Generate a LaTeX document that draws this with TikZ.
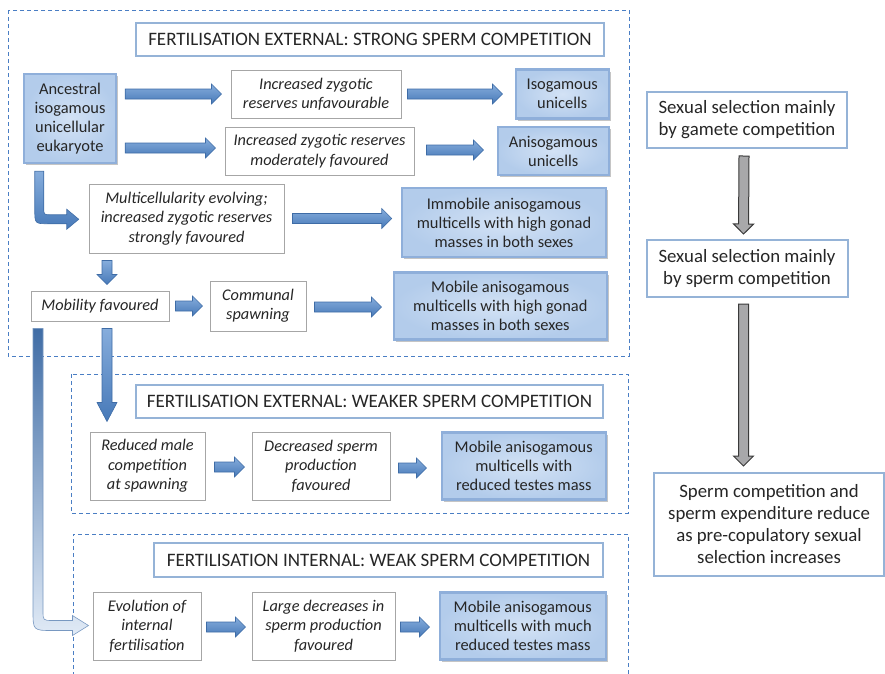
\documentclass[tikz,border=0pt]{standalone}
\usepackage{fontspec}
\setmainfont{Carlito}
\usetikzlibrary{positioning,calc,shadows}

\definecolor{textgray}{HTML}{262626}
\definecolor{dashblue}{HTML}{4A7EC4}
\definecolor{titleblue}{HTML}{95B3D7}
\definecolor{boxfill}{HTML}{D3E2F5}
\definecolor{boxouter}{HTML}{B3CCEB}
\definecolor{boxedge}{HTML}{8FAFDA}
\definecolor{arrowlight}{HTML}{86ADDC}
\definecolor{arrowdark}{HTML}{4779B8}
\definecolor{arrowedge}{HTML}{3E6CA6}
\definecolor{grayfill}{HTML}{A8A8AA}
\definecolor{grayedge}{HTML}{3A3A3A}
\definecolor{plainedge}{HTML}{A6A6A6}

\tikzset{
    stage/.style={draw=dashblue, line width=1pt, dash pattern=on 4pt off 3pt},
    box size/.style 2 args={minimum width=#1, minimum height=#2},
    heading/.style={draw=titleblue, line width=2pt, fill=white, inner sep=0pt,
        text=textgray, font=\fontsize{19}{22}\selectfont},
    outcome/.style={draw=boxedge, line width=2.5pt, inner color=boxfill, outer color=boxouter, inner sep=0pt,
        drop shadow={shadow xshift=2pt, shadow yshift=-2pt, fill=black!45, opacity=0.5},
        align=center, text=textgray, font=\fontsize{16.4}{19}\selectfont},
    process/.style={draw=plainedge, line width=1pt, fill=white, inner sep=0pt,
        align=center, text=textgray, font=\fontsize{16.3}{19.3}\selectfont\itshape},
    summary/.style={draw=titleblue, line width=2pt, fill=white, inner sep=0pt,
        align=center, text=textgray, font=\fontsize{18.8}{22}\selectfont},
    blue arrow/.style={draw=arrowedge, line width=0.6pt, top color=arrowlight, bottom color=arrowdark},
    long arrow/.style={draw=arrowedge!70, line width=0.6pt, top color=arrowdark!90!black, bottom color=arrowlight!25},
    gray arrow/.style={draw=grayedge, line width=1pt, fill=grayfill},
}

\newcommand{\headlen}{10pt}
\newcommand{\fatarrow}[3][blue arrow]{%
    \path ($#2$) coordinate (fa-s) ($#3$) coordinate (fa-e);
    \path ($(fa-e)!\headlen!(fa-s)$) coordinate (fa-h);
    \path[#1] ($(fa-s)!5pt!90:(fa-e)$) -- ($(fa-h)!5pt!90:(fa-e)$) -- ($(fa-h)!10pt!90:(fa-e)$)
        -- (fa-e) -- ($(fa-h)!10pt!-90:(fa-e)$) -- ($(fa-h)!5pt!-90:(fa-e)$) -- ($(fa-s)!5pt!-90:(fa-e)$) -- cycle;}

\begin{document}
\begin{tikzpicture}[x=1pt, y=-1pt]
    \useasboundingbox (0,0) rectangle (885,673);

    \draw[stage] (8,10) rectangle (629,356);
    \draw[stage] (71,374) rectangle (628,513);
    \draw[stage] (73,690) |- (628,534) -- (628,690);

    \node[heading, box size={468}{33}] (title1) at (370,39.5) {FERTILISATION EXTERNAL: STRONG SPERM COMPETITION};
    \node[outcome, box size={92}{89}] (anc) at (70,118.5) {Ancestral\\isogamous\\unicellular\\eukaryote};
    \node[process, box size={170}{48}] (unfav) at (316,94) {Increased zygotic\\reserves unfavourable};
    \node[process, box size={189}{48}] (moder) at (319.5,151) {Increased zygotic reserves\\moderately favoured};
    \node[outcome, box size={93}{49}, right=113pt of unfav] (iso) {Isogamous\\unicells};
    \node[outcome, box size={111}{48}, right=82pt of moder] (aniso) {Anisogamous\\unicells};
    \node[process, box size={195}{69}] (multi) at (186.5,218.5) {Multicellularity evolving;\\increased zygotic reserves\\strongly favoured};
    \node[outcome, box size={204}{69}] (immob) at (504,222.5) {Immobile anisogamous\\multicells with high gonad\\masses in both sexes};
    \node[process, box size={138}{30}] (mobil) at (100,306) {Mobility favoured};
    \node[process, box size={96}{50}, right=40pt of mobil] (commun) {Communal\\spawning};
    \node[outcome, box size={213}{67}, right=86pt of commun] (mobile1) {Mobile anisogamous\\multicells with high gonad\\masses in both sexes};

    \node[heading, box size={467}{33}] (title2) at (369.5,401.5) {FERTILISATION EXTERNAL: WEAKER SPERM COMPETITION};
    \node[process, box size={115}{68}] (reduced) at (147.5,466) {Reduced male\\competition\\at spawning};
    \node[process, box size={138}{68}, right=46pt of reduced] (decr) {Decreased sperm\\production\\favoured};
    \node[outcome, box size={164}{67}, right=50pt of decr] (mobile2) {Mobile anisogamous\\multicells with\\reduced testes mass};

    \node[heading, box size={449}{34}] (title3) at (378.5,560) {FERTILISATION INTERNAL: WEAK SPERM COMPETITION};
    \node[process, box size={108}{68}] (evol) at (147,626) {Evolution of\\internal\\fertilisation};
    \node[process, box size={143}{68}, right=50pt of evol] (large) {Large decreases in\\sperm production\\favoured};
    \node[outcome, box size={166}{67}, right=43pt of large] (mobile3) {Mobile anisogamous\\multicells with much\\reduced testes mass};

    \node[summary, box size={200}{56}] (ss1) at (747,120) {Sexual selection mainly\\by gamete competition};
    \node[summary, box size={201}{57}, below=90pt of ss1] (ss2) {Sexual selection mainly\\by sperm competition};
    \node[summary, box size={230}{103}] (ss3) at (769,524.5) {Sperm competition and\\sperm expenditure reduce\\as pre-copulatory sexual\\selection increases};

    \fatarrow{(anc.east|-unfav)+(8,0)}{(unfav.west)+(-9,0)}
    \fatarrow{(anc.east|-moder)+(8,-3)}{(moder.west)+(-9,-3)}
    \fatarrow{(unfav.east)+(6,0)}{(iso.west|-unfav)+(-12,0)}
    \fatarrow{(moder.east)+(12,-1)}{(aniso.west|-moder)+(-13,-1)}
    \fatarrow{(multi.east)+(8,0)}{(immob.west|-multi)+(-9,0)}
    \fatarrow{(multi.south-|mobil.north)+(7,7)}{(mobil.north)+(7,-6)}
    \fatarrow{(mobil.east)+(6,0)}{(commun.west|-mobil)+(-7,0)}
    \fatarrow{(commun.east)+(8,1)}{(mobile1.west|-commun)+(-11,1)}
    {\renewcommand{\headlen}{19pt}
    \fatarrow{(mobil.south)+(7,7)}{(reduced.north-|mobil.south)+(7,-10)}}
    \fatarrow{(reduced.east)+(9,1)}{(decr.west)+(-7,1)}
    \fatarrow{(decr.east)+(8,2)}{(mobile2.west|-decr)+(-14,2)}
    \fatarrow{(evol.east)+(5,1)}{(large.west|-evol)+(-6,1)}
    \fatarrow{(large.east)+(5,1)}{(mobile3.west|-large)+(-9,1)}

    \path[blue arrow, shift={(anc.south west)}] (12,7) -- (12,45) .. controls (12,59.5) .. (26,59.5)
        -- (44,59.5) -- (44,65) -- (56,55) -- (44,45) -- (44,50.5) -- (28,50.5) .. controls (21,50.5) .. (21,43.5)
        -- (21,7) -- cycle;
    \path[long arrow, shift={(mobil.south west)}] (2.5,7) -- (2.5,289) .. controls (2.5,309) .. (22.5,309)
        -- (42,309) -- (42,314) -- (58,304) -- (42,294) -- (42,299) -- (22.5,299) .. controls (12.5,299) .. (12.5,289)
        -- (12.5,7) -- cycle;

    \fatarrow[gray arrow]{(ss1.south)+(-3,7)}{(ss2.north)+(-3.5,-5)}
    \fatarrow[gray arrow]{(ss2.south)+(-3.5,6)}{(ss3.north-|ss2.south)+(-3.5,-6)}
\end{tikzpicture}
\end{document}
